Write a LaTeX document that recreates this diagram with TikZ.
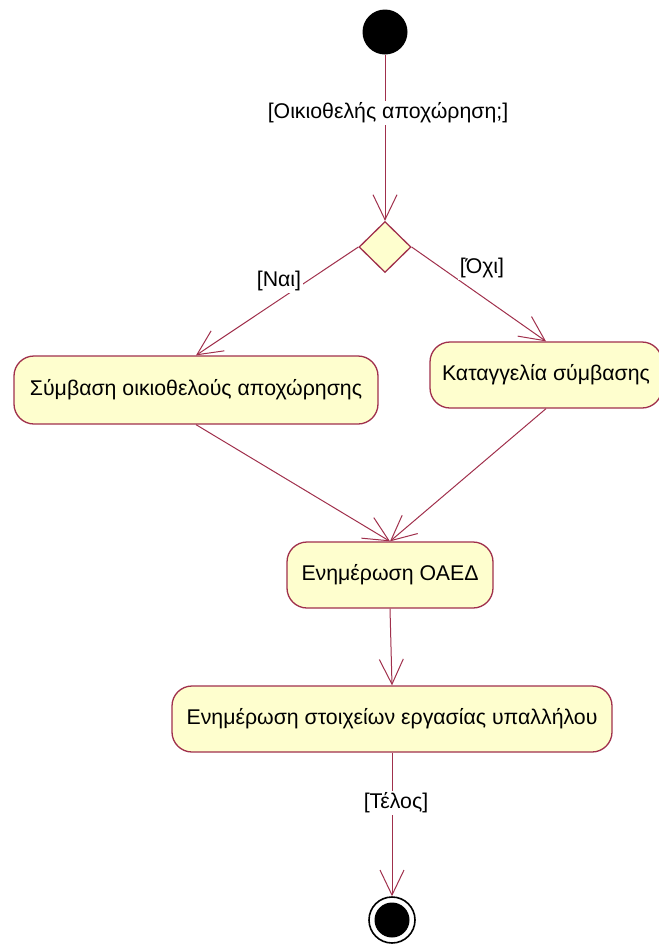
\documentclass[tikz,border=0pt]{standalone}
\usepackage{fontspec}
\setmainfont{Liberation Sans}
\usetikzlibrary{arrows.meta,shapes.geometric}
\definecolor{umlline}{HTML}{A0304C}
\definecolor{umlfill}{HTML}{FEFECE}
\tikzset{
  actbox/.style={draw=umlline, fill=umlfill, line width=1.3pt, rounded corners=20pt,
    font=\fontsize{21.3}{24}\selectfont, inner sep=0pt},
  flow/.style={draw=umlline, line width=1pt, -{Straight Barb[length=25pt,width=24pt,line width=1pt]}},
  guard/.style={fill=white, inner sep=2pt, font=\fontsize{21.3}{24}\selectfont},
}
\begin{document}
\begin{tikzpicture}[x=1pt,y=-1pt]
  \useasboundingbox (0,0) rectangle (659,946);
  % initial node
  \node[circle, fill=black, minimum size=45pt, inner sep=0pt] (start) at (385,32) {};
  % decision
  \node[diamond, draw=umlline, fill=umlfill, line width=1.3pt, minimum width=52pt, minimum height=51pt, inner sep=0pt] (dec) at (385,247) {};
  % actions
  \node[actbox, minimum width=364pt, minimum height=68pt] (agree) at (196,390) {Σύμβαση οικιοθελούς αποχώρησης};
  \node[actbox, minimum width=232pt, minimum height=66pt] (cancel) at (546,375) {Καταγγελία σύμβασης};
  \node[actbox, minimum width=206pt, minimum height=66pt] (oaed) at (390,575) {Ενημέρωση ΟΑΕΔ};
  \node[actbox, minimum width=440pt, minimum height=66pt] (staff) at (392,719) {Ενημέρωση στοιχείων εργασίας υπαλλήλου};
  % final node
  \node[circle, draw=black, fill=white, line width=1.6pt, minimum size=46pt, inner sep=0pt] (final) at (392,920) {};
  \node[circle, fill=black, minimum size=35pt, inner sep=0pt] (finaldot) at (final.center) {};
  % flows
  \draw[flow] (start.south) -- (dec.north);
  \draw[flow] (dec.west) -- (agree.north);
  \draw[flow] (dec.east) -- (cancel.north);
  \draw[flow] (agree.south) -- (oaed.north);
  \draw[flow] (cancel.south) -- (oaed.north);
  \draw[flow] (oaed.south) -- (staff.north);
  \draw[flow] (staff.south) -- (final.north);
  % guards
  \node[guard] (g1) at (388,113) {[Οικιοθελής αποχώρηση;]};
  \node[guard] (g2) at (279,281) {[Ναι]};
  \node[guard] (g3) at (482,268) {[Όχι]};
  \node[guard] (g4) at (396,803) {[Τέλος]};
\end{tikzpicture}
\end{document}
